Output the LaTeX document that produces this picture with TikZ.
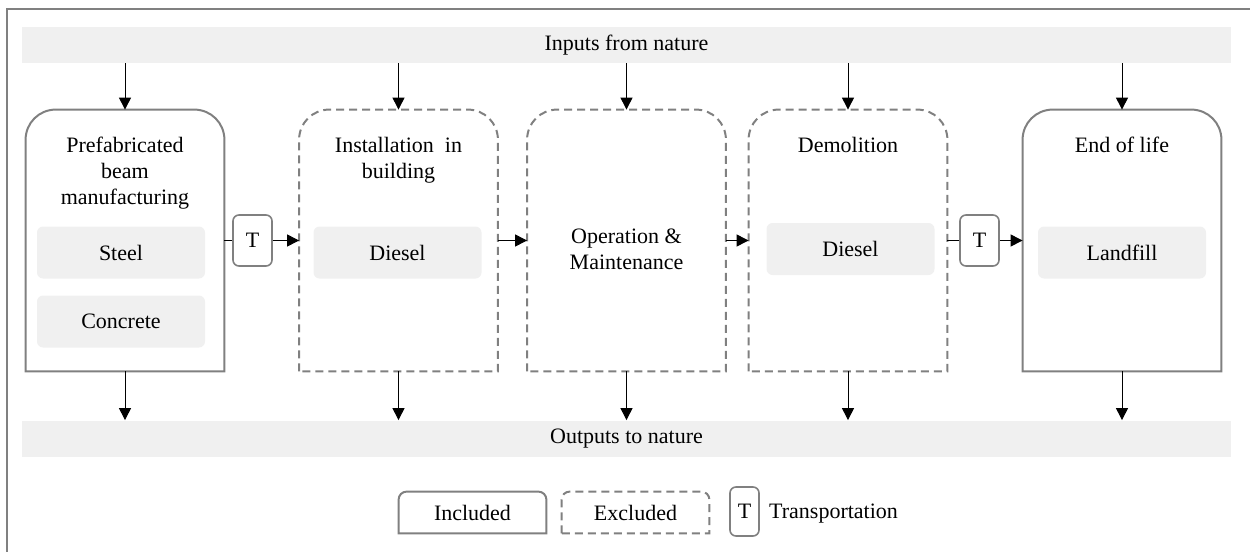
\documentclass[tikz,border=0pt]{standalone}
\usepackage{fontspec}
\setmainfont{Liberation Serif}
\usetikzlibrary{arrows.meta,calc,positioning}

\begin{document}
\begin{tikzpicture}[x=0.5pt, y=-0.5pt, font=\fontsize{11}{13}\selectfont,
	band/.style={fill=black!6, minimum width=604.5pt, minimum height=18pt, inner sep=0pt},
	proc/.style={minimum width=99pt, minimum height=130.5pt, inner sep=0pt},
	legend/.style={minimum width=73.5pt, minimum height=20.5pt, inner sep=0pt},
	title/.style={align=center, inner sep=0pt},
	sub/.style={fill=black!6, rounded corners=3pt, minimum width=84pt, minimum height=26pt, inner sep=0pt},
	tbox/.style={draw=black!50, line width=0.8pt, rounded corners=3pt, minimum width=19.5pt, minimum height=25.5pt, inner sep=0pt},
	incl/.style={draw=black!50, line width=1pt},
	excl/.style={incl, dash pattern=on 4pt off 2.5pt},
	arr/.style={-{Triangle[length=6pt, width=6pt]}, line width=0.5pt}]
	\clip (0,0) rectangle (1250,552);

	% Frame
	\draw[black!50, line width=0.8pt] (7,600) -- (7,9) -- (1300,9);

	% Nature
	\node[band] (inp) at (626.5,45) {Inputs from nature};
	\node[band] (out) at (626.5,438.5) {Outputs to nature};

	% Life cycle stages
	\node[proc] (p1) at (125,240.5) {};
	\node[proc] (p2) at (398.5,240.5) {};
	\node[proc] (p3) at (626.5,240.5) {};
	\node[proc] (p4) at (848,240.5) {};
	\node[proc] (p5) at (1122,240.5) {};

	\node[title, below=13.5pt of p1.north] (p1t) {Prefabricated\\beam\\manufacturing};
	\node[title, below=13.5pt of p2.north] (p2t) {Installation~ in\\building};
	\node[title] (p3t) at (626.5,249) {Operation \&\\Maintenance};
	\node[title, below=13.5pt of p4.north] (p4t) {Demolition};
	\node[title, below=13.5pt of p5.north] (p5t) {End of life};

	\node[sub] (steel) at (121,252.5) {Steel};
	\node[sub] (concrete) at (121,321.5) {Concrete};
	\node[sub] (diesel1) at (397.5,252.5) {Diesel};
	\node[sub] (diesel2) at (850.5,249) {Diesel};
	\node[sub] (landfill) at (1122,252.5) {Landfill};

	% Transportation
	\node[tbox] (t1) at (252.5,240.5) {T};
	\node[tbox] (t2) at (979.5,240.5) {T};

	% Legend
	\node[legend] (l1) at (472.5,512.5) {Included};
	\node[legend] (l2) at (635.5,512.5) {Excluded};
	\node[tbox, minimum width=14.5pt, minimum height=24.5pt] (lt) at (744.5,511.5) {T};
	\node[inner sep=0pt, anchor=base west] (ltx) at ([xshift=4.5pt]lt.base east) {Transportation};

	% Outlines, rounded on top only
	\foreach \n/\s/\r in {p1/incl/30, p2/excl/30, p3/excl/30, p4/excl/30, p5/incl/30, l1/incl/8, l2/excl/8}
		\draw[\s] (\n.south west) -- ($(\n.north west)+(0,\r)$) arc[start angle=180, end angle=270, radius=\r]
			-- ($(\n.north east)+(-\r,0)$) arc[start angle=270, end angle=360, radius=\r] -- (\n.south east) -- cycle;

	% Flows
	\foreach \n in {p1,p2,p3,p4,p5} {
		\draw[arr] (\n.north |- inp.south) -- (\n.north);
		\draw[arr] (\n.south) -- (\n.south |- out.north);
	}
	\draw[line width=0.5pt] (p1.east) -- (t1.west);
	\draw[arr] (t1.east) -- (p2.west);
	\draw[arr] (p2.east) -- (p3.west);
	\draw[arr] (p3.east) -- (p4.west);
	\draw[line width=0.5pt] (p4.east) -- (t2.west);
	\draw[arr] (t2.east) -- (p5.west);
\end{tikzpicture}
\end{document}
